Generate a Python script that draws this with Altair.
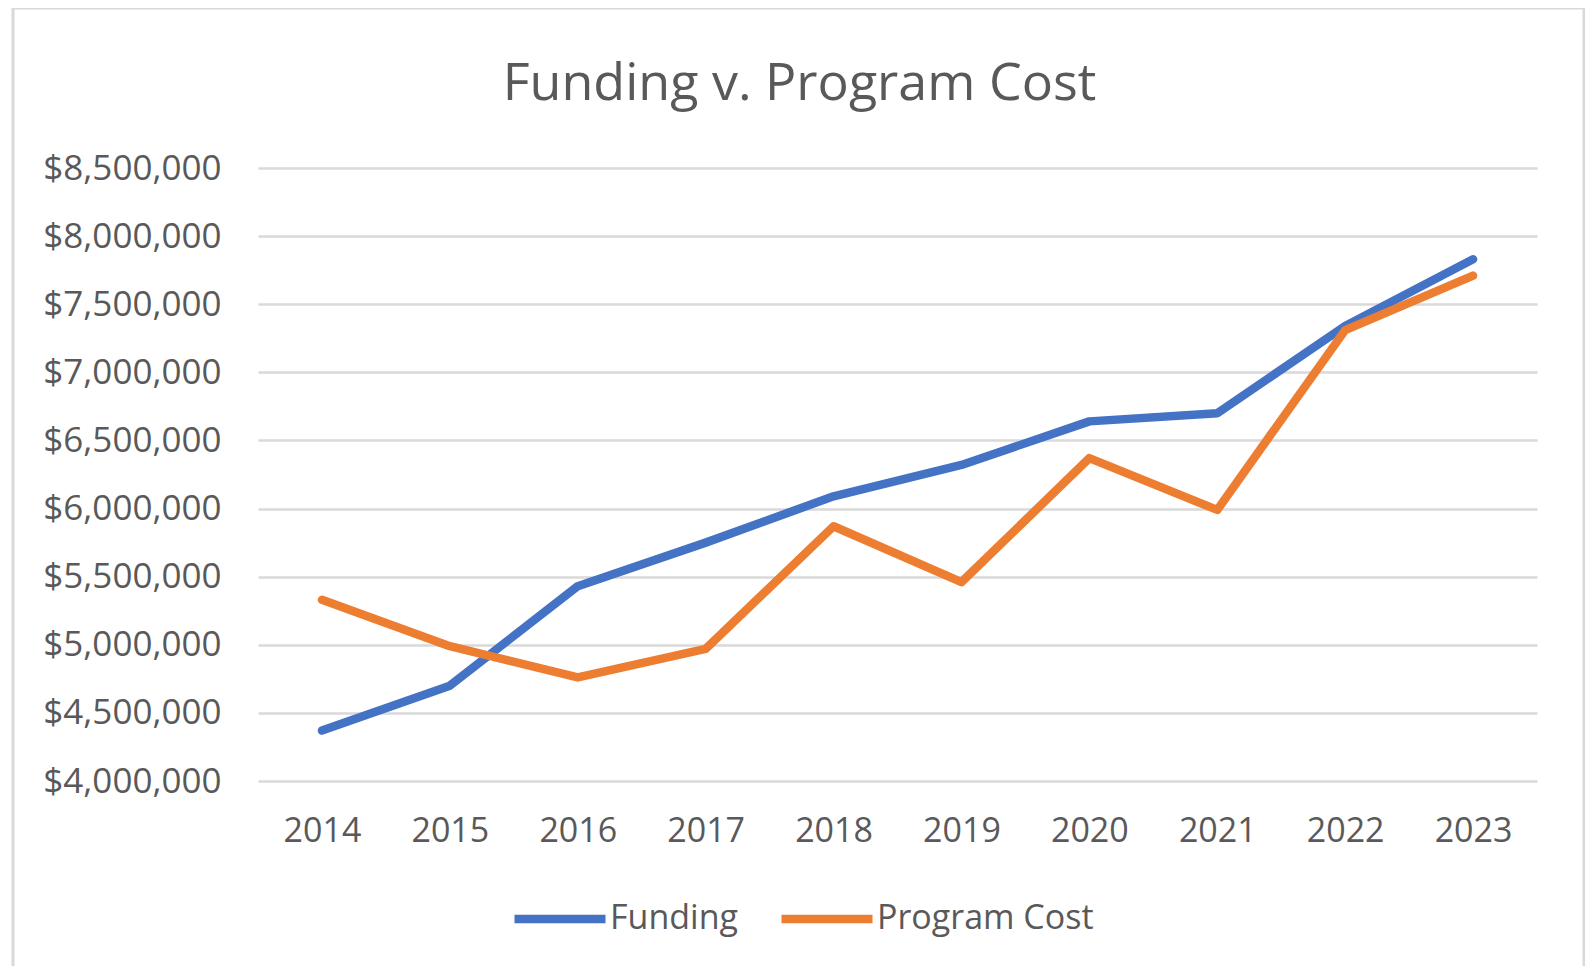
import altair as alt
import pandas as pd

years = ["2014", "2015", "2016", "2017", "2018", "2019", "2020", "2021", "2022", "2023"]
funding = [4370000, 4700000, 5430000, 5750000, 6090000, 6320000, 6640000, 6700000, 7340000, 7830000]
program_cost = [5330000, 4990000, 4760000, 4970000, 5870000, 5460000, 6370000, 5990000, 7310000, 7710000]
series_names = ["Funding", "Program Cost"]
series_colors = ["#4472C4", "#ED7D31"]
y_ticks = [4000000, 4500000, 5000000, 5500000, 6000000, 6500000, 7000000, 7500000, 8000000, 8500000]

rows = []
for name, vals in zip(series_names, [funding, program_cost]):
    for yr, v in zip(years, vals):
        rows.append({"Year": yr, "Value": v, "Series": name})
df = pd.DataFrame(rows)

FONT = "Open Sans"
TXT = "#595959"

border = alt.Chart(alt.Data(values=[{"a": 1}])).mark_rect(
    fill="transparent", stroke="#D9D9D9", strokeWidth=3
).encode(
    x=alt.value(-245), x2=alt.value(1326), y=alt.value(-160), y2=alt.value(900)
)

lines = alt.Chart(df).mark_line(strokeWidth=8.5, strokeCap="round", strokeJoin="round").encode(
    x=alt.X("Year:O", sort=years,
            scale=alt.Scale(type="point", padding=0.5),
            axis=alt.Axis(title=None, labelAngle=0, domain=False, ticks=False,
                          labelFontSize=34, labelColor=TXT, labelFont=FONT,
                          labelPadding=33, grid=False)),
    y=alt.Y("Value:Q",
            scale=alt.Scale(domain=[4000000, 8500000], nice=False, zero=False),
            axis=alt.Axis(title=None, values=y_ticks, format="$,.0f", domain=False, ticks=False,
                          labelFontSize=35, labelColor=TXT, labelFont=FONT, labelPadding=37,
                          grid=True, gridColor="#D9D9D9", gridWidth=2.5)),
    color=alt.Color("Series:N",
                    scale=alt.Scale(domain=series_names, range=series_colors),
                    legend=alt.Legend(title=None, orient="none", legendX=252, legendY=701,
                                      direction="horizontal", symbolType="stroke",
                                      symbolSize=8281, symbolStrokeWidth=8.5,
                                      labelFontSize=34, labelFont=FONT, labelColor=TXT,
                                      labelLimit=500, labelOffset=0, columnPadding=26)),
    detail="Series:N",
)

chart = alt.layer(border, lines).properties(
    width=1279,
    height=613,
    background="white",
    autosize=alt.AutoSizeParams(type="none"),
    padding={"left": 250, "top": 160, "right": 48, "bottom": 185},
    title=alt.TitleParams("Funding v. Program Cost", fontSize=52, font=FONT, color=TXT,
                          fontWeight="normal", anchor="middle", frame="group", dx=-98,
                          baseline="alphabetic", offset=-145),
).configure_view(stroke="transparent", strokeWidth=0)

chart.save("out.html", embed_options={"renderer": "svg", "actions": False})
